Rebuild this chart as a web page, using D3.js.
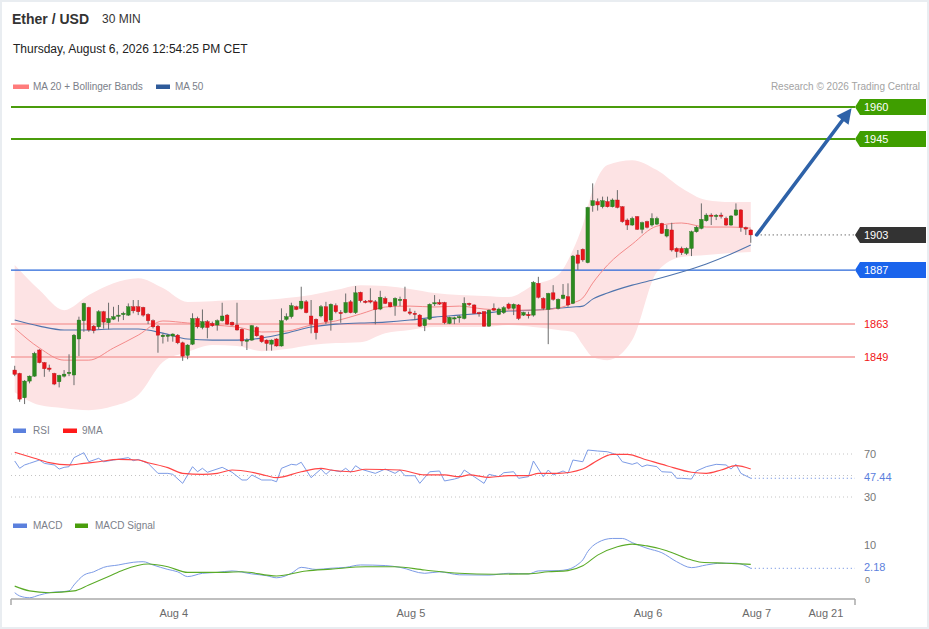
<!DOCTYPE html>
<html><head><meta charset="utf-8">
<script src="https://cdn.jsdelivr.net/npm/d3@7"></script>
<style>
html,body{margin:0;padding:0;background:#e9edf1;}
svg{display:block;font-family:"Liberation Sans",Arial,sans-serif;}
</style></head><body>
<svg id="c" width="929" height="629"></svg>
<script>
// ---------- DATA ----------
const candleOpen = [1843.2,1841.7,1830.9,1838.3,1840.5,1852.1,1846.5,1844.1,1841.7,1838.0,
1840.5,1841.7,1841.0,1857.0,1865.1,1871.0,1862.7,1862.4,1869.1,1864.2,
1865.8,1867.2,1867.8,1867.6,1871.3,1871.3,1871.0,1867.9,1865.1,1862.7,
1858.0,1858.3,1858.3,1858.7,1855.3,1849.7,1854.7,1866.1,
1862.1,1864.7,1863.9,1863.2,1865.1,1867.6,1864.4,1863.2,1861.3,1856.1,
1856.5,1862.1,1858.4,1856.5,1854.7,1857.0,1853.9,1865.7,1866.9,1871.3,
1870.6,1873.5,1867.2,1865.7,1867.2,1871.3,1865.4,1871.8,1868.8,1868.7,
1873.5,1868.7,1877.7,1873.8,1874.0,1873.5,
1870.3,1875.0,1873.1,1871.8,1874.1,1874.6,1869.0,1868.4,1867.6,1862.9,
1865.8,1872.7,1873.2,1873.2,1863.9,1866.0,1866.4,1866.1,1872.8,1872.1,
1868.7,1869.1,1862.7,1870.6,1867.9,1868.7,1872.5,1870.6,1872.1,1867.6,
1867.9,1867.6,1881.7,1875.0,1870.1,1877.5,1870.6,1875.0,
1875.8,1872.8,1894.3,1896.8,1890.9,1916.2,1918.0,1915.7,1918.0,1915.7,
1918.7,1915.7,1909.8,1907.6,1911.3,1905.7,1909.1,1907.6,1908.0,1908.3,
1902.7,1905.4,1897.2,1897.2,1895.0,1897.2,1904.6,1906.1,1909.5,1912.0,
1911.4,1912.0,1910.5,1907.6,1912.0,1914.3,1906.4,1905.4];
const candleHigh = [1845.1,1842.0,1838.8,1840.8,1851.3,1852.5,1846.8,1845.6,1842.0,1841.1,
1843.2,1850.2,1859.2,1866.9,1873.1,1871.3,1863.2,1869.8,1869.5,1873.1,
1871.3,1872.1,1869.1,1872.8,1874.3,1874.3,1871.3,1868.4,1865.7,1863.2,
1859.5,1859.2,1859.5,1859.2,1855.8,1854.7,1868.4,1866.9,
1870.1,1865.4,1864.7,1865.7,1873.1,1868.1,1864.7,1873.1,1861.7,1857.3,
1863.2,1862.7,1858.7,1856.8,1856.8,1857.3,1870.6,1868.4,1873.1,1871.8,
1880.2,1874.3,1874.3,1866.1,1872.1,1873.5,1872.8,1872.8,1869.8,1877.2,
1874.3,1880.5,1878.0,1874.3,1879.5,1874.3,
1878.4,1875.8,1873.5,1875.5,1875.8,1880.2,1870.6,1869.5,1868.1,1866.1,
1872.8,1876.5,1874.6,1873.5,1866.9,1866.9,1867.6,1875.5,1873.1,1872.4,
1869.1,1869.4,1870.1,1872.8,1870.9,1871.6,1873.1,1872.8,1872.5,1869.1,
1869.1,1882.7,1884.6,1875.5,1877.5,1880.9,1875.0,1881.4,
1881.7,1894.3,1896.5,1897.2,1915.7,1926.1,1919.4,1920.2,1920.2,1919.4,
1923.1,1916.0,1910.5,1911.3,1911.6,1909.1,1909.5,1912.8,1911.3,1908.6,
1907.6,1908.6,1897.7,1898.0,1897.7,1905.1,1907.2,1917.2,1912.8,1912.8,
1912.5,1913.1,1911.3,1912.0,1917.2,1914.6,1906.9,1905.7];
const candleLow = [1840.5,1829.1,1828.1,1837.3,1840.2,1846.2,1840.2,1842.5,1836.5,1835.5,
1839.9,1840.5,1836.5,1849.4,1860.2,1860.2,1859.5,1861.3,1861.6,1861.3,
1865.4,1864.7,1865.4,1867.2,1868.4,1867.6,1866.9,1863.6,1861.7,1850.9,
1855.0,1855.8,1855.8,1854.7,1847.3,1848.0,1854.3,1861.7,
1861.3,1857.3,1862.4,1860.7,1864.7,1863.2,1862.9,1860.7,1853.9,1852.1,
1856.2,1858.0,1855.3,1851.8,1851.8,1853.6,1853.6,1865.1,1866.1,1869.8,
1870.1,1868.4,1859.5,1856.8,1866.6,1863.6,1860.7,1868.4,1864.2,1868.4,
1868.4,1868.1,1873.2,1872.8,1872.8,1863.5,
1869.8,1872.5,1871.0,1867.3,1871.6,1869.1,1867.6,1865.4,1862.4,1860.5,
1865.4,1871.6,1872.1,1863.6,1863.6,1863.6,1864.2,1865.7,1871.6,1868.1,
1866.9,1862.4,1862.4,1869.5,1867.6,1868.1,1870.1,1867.6,1865.4,1867.2,
1866.1,1866.9,1875.0,1869.8,1854.7,1874.0,1870.1,1874.6,
1871.3,1872.5,1887.6,1891.3,1890.6,1913.5,1914.0,1915.0,1915.4,1915.4,
1915.0,1908.6,1905.4,1907.2,1905.4,1903.9,1906.1,1906.9,1907.6,1903.6,
1902.1,1895.8,1893.2,1894.3,1894.3,1893.8,1904.2,1905.7,1909.1,1907.6,
1909.8,1910.5,1907.2,1907.2,1911.6,1904.6,1903.2,1899.7];
const candleClose = [1841.3,1830.3,1838.3,1840.5,1850.6,1846.5,1843.8,1843.5,1837.0,1840.8,
1841.4,1842.2,1858.7,1865.4,1872.8,1861.0,1860.7,1869.1,1864.5,1866.1,
1866.9,1867.6,1868.4,1871.3,1869.5,1869.1,1867.6,1865.1,1862.4,1858.7,
1858.7,1858.7,1859.2,1855.3,1849.4,1854.3,1866.1,1862.4,
1864.7,1862.1,1862.9,1865.1,1867.2,1863.6,1863.2,1861.0,1856.1,1856.5,
1862.9,1858.4,1855.8,1855.0,1856.5,1853.9,1865.1,1866.9,1871.8,1870.1,
1873.8,1868.7,1863.6,1859.8,1871.3,1864.7,1872.4,1869.1,1868.4,1873.2,
1868.7,1877.5,1874.0,1873.2,1873.4,1870.1,
1875.5,1872.8,1871.3,1875.0,1874.6,1869.4,1868.4,1867.9,1862.7,1865.7,
1872.4,1873.1,1872.5,1864.2,1866.6,1866.4,1866.9,1872.8,1872.4,1868.4,
1868.2,1862.7,1869.8,1869.8,1870.3,1870.9,1870.6,1872.4,1866.1,1868.8,
1867.3,1882.1,1875.5,1870.6,1877.2,1874.6,1874.6,1876.5,
1872.1,1893.8,1890.6,1892.1,1915.4,1918.4,1916.5,1918.4,1915.7,1918.7,
1915.4,1909.1,1907.6,1910.5,1905.7,1908.6,1906.6,1910.5,1910.5,1903.9,
1905.7,1896.5,1895.8,1895.3,1897.2,1904.6,1906.6,1910.1,1912.0,1911.6,
1911.9,1911.6,1907.6,1911.6,1914.3,1906.6,1905.8,1903.2];

// moving averages / bands (sampled at candle indices)
const maIdx = [0,5,10,15,20,25,30,35,40,45,50,55,60,65,70,75,80,85,90,95,100,105,110,113,115,117,120,125,130,135,140,145,149];
const ma20 = [1861.8,1853.0,1847.6,1847.6,1853.0,1858.7,1865.0,1864.1,1863.2,1862.3,1860.1,1860.5,1863.2,1865.0,1868.1,1871.2,1871.6,1871.2,1871.6,1870.3,1869.8,1869.8,1870.7,1873.0,1875.2,1881.8,1889.8,1899.1,1907.1,1908.5,1906.7,1906.7,1906.2];
const ma50 = [1865.4,1862.7,1861.0,1861.0,1861.4,1861.4,1859.6,1857.0,1856.5,1856.5,1857.4,1859.6,1862.3,1863.6,1864.1,1864.5,1865.4,1866.7,1867.6,1868.5,1869.4,1869.8,1870.7,1871.2,1871.6,1874.7,1877.4,1880.9,1883.6,1886.7,1890.3,1894.7,1898.7];
const bbUpper = [1889.8,1878.7,1869.8,1876.5,1881.8,1884.0,1879.6,1873.4,1873.8,1874.3,1874.3,1875.2,1876.5,1878.7,1880.9,1880.5,1879.2,1877.4,1876.5,1876.1,1875.6,1880.9,1885.4,1896.5,1907.6,1923.1,1934.2,1936.4,1932.0,1924.0,1918.7,1917.8,1917.8];
const bbLower = [1833.4,1827.7,1826.3,1825.4,1827.2,1832.1,1846.8,1851.2,1854.3,1853.9,1851.6,1852.5,1854.3,1855.2,1855.6,1859.6,1861.0,1862.3,1862.3,1862.3,1863.2,1862.3,1861.0,1860.1,1854.3,1849.0,1847.6,1856.5,1886.7,1893.4,1894.3,1895.2,1895.6];

// RSI
const rsiIdx = [0,1,2,3,5,6,8,9,10,11,12,14,15,17,18,20,23,24,25,27,29,31,32,34,36,37,38,39,42,44,46,47,48,50,52,53,54,56,57,58,60,62,63,64,66,67,68,69,70,73,75,77,78,79,81,82,84,86,87,89,90,91,93,95,96,98,99,101,102,104,105,107,108,109,111,112,113,115,116,118,120,121,122,123,125,126,127,128,130,131,133,134,135,137,138,140,142,144,145,146,147,149];
const rsiVal = [63.5,56.7,59.8,61.3,64.4,61.3,59.8,56.0,57.6,58.2,66.6,71.2,62.8,66.0,62.8,64.4,66.6,63.8,65.0,61.3,52.0,52.0,51.1,42.7,58.2,53.5,56.7,53.0,57.6,53.0,45.8,45.8,50.5,45.8,45.8,44.2,56.7,60.4,59.8,62.3,48.0,56.0,51.1,55.1,53.5,56.7,53.0,59.1,56.0,52.0,56.0,52.0,55.1,49.8,49.8,42.7,53.5,54.2,44.9,46.7,48.0,55.1,48.9,42.7,51.1,48.9,52.6,53.5,47.4,48.9,63.5,48.9,55.1,50.5,54.2,52.0,64.4,62.8,73.7,72.8,72.1,70.6,69.1,62.8,60.4,61.9,58.2,59.8,58.2,53.5,53.0,47.4,47.4,46.7,54.2,58.2,60.4,59.8,56.0,60.4,52.0,47.44];
const rsiMaIdx = [0,4,7,11,14,17,21,25,27,31,34,38,41,44,48,51,53,58,62,64,68,71,78,83,87,90,92,96,100,104,106,110,115,117,121,124,128,132,137,140,143,146,149];
const rsiMaVal = [71.6,66.0,61.9,59.8,61.3,62.8,65.0,64.4,61.9,57.3,52.0,51.1,52.0,55.1,53.0,49.8,48.0,53.5,56.7,55.1,53.5,55.8,55.1,50.5,50.5,48.9,50.5,48.3,49.8,49.8,52.0,52.0,56.0,61.3,69.7,69.7,64.4,59.1,53.0,52.0,55.1,59.1,56.0];
const rsiTicks = [70, 50, 30];
const rsiLast = 47.44;

// MACD
const macdIdx = [0,1,3,5,7,11,12,14,16,18,21,24,26,28,31,33,35,38,41,44,48,51,53,56,58,61,64,67,70,75,78,83,86,90,96,100,104,106,110,112,114,115,116,118,121,123,125,128,131,134,137,140,143,146,149];
const macdVal = [-6.0,-7.1,-7.7,-6.8,-6.0,-5.4,-3.4,-0.1,1.0,2.5,3.3,4.2,4.4,3.3,1.8,1.0,-0.6,0.5,0.8,1.3,0.3,-0.3,-1.0,0.5,2.5,1.8,2.2,2.5,3.3,3.1,2.5,0.5,1.0,0.0,-0.1,0.5,0.3,1.3,1.4,1.8,3.5,5.0,7.8,10.8,12.2,12.2,10.8,8.9,7.4,4.4,2.4,3.3,3.9,3.9,2.18];
const signalIdx = [0,3,7,12,15,19,22,27,31,35,41,46,53,59,64,71,77,83,90,97,104,108,112,115,118,122,125,128,132,136,139,144,149];
const signalVal = [-3.8,-5.4,-6.0,-5.4,-3.4,-0.6,1.6,3.6,2.7,0.8,0.8,1.0,-0.4,1.3,1.9,2.7,2.7,1.6,0.5,0.2,0.3,1.0,1.4,3.0,6.6,9.4,10.3,9.7,8.1,5.5,4.2,3.9,3.5];
const macdTicks = [10, 0];
const macdLast = 2.18;

// levels
const levelVal = [1960.0, 1945.8, 1903.2, 1887.6, 1863.7, 1849.0];
const levelLabel = ["1960", "1945", "1903", "1887", "1863", "1849"];
const levelKind = ["res", "res", "last", "piv", "sup", "sup"];

// x axis ticks (candle index) and labels
const xTickIdx = [32, 80, 128, 150, 164];
const xTickLabel = ["Aug 4", "Aug 5", "Aug 6", "Aug 7", "Aug 21"];

// target arrow
const arrowFrom = [150.2, 1903.2];
const arrowTo = [169.4, 1959.5];

// ---------- DRAW ----------
const svg = d3.select("#c");
svg.append("rect").attr("x",2).attr("y",2).attr("width",925).attr("height",625).attr("fill","#fff");

const x = d3.scaleLinear().domain([-0.75,170.1]).range([11,855]);
const y = d3.scaleLinear().domain([1849,1960]).range([357,107]);
const yR = d3.scaleLinear().domain([30,70]).range([497,454]);
const yM = d3.scaleLinear().domain([0,10]).range([574.8,545]);

// header
svg.append("text").attr("x",12).attr("y",24).attr("font-size",14).attr("font-weight","bold").attr("fill","#333").text("Ether / USD");
svg.append("text").attr("x",102).attr("y",23).attr("font-size",12).attr("fill","#333").text("30 MIN");
svg.append("text").attr("x",13).attr("y",53).attr("font-size",12).attr("fill","#222").text("Thursday, August 6, 2026 12:54:25 PM CET");

function legend(items, ly){
  items.forEach(it=>{
    svg.append("rect").attr("x",it.rx).attr("y",ly-4).attr("width",it.rw).attr("height",4.5).attr("fill",it.c);
    svg.append("text").attr("x",it.tx).attr("y",ly+1.5).attr("font-size",10).attr("fill","#7b8089").text(it.t);
  });
}
legend([{rx:13,rw:16,c:"#ff7c7c",tx:33,t:"MA 20 + Bollinger Bands"},{rx:156,rw:14,c:"#2f5b9a",tx:175,t:"MA 50"}], 88.5);
svg.append("text").attr("x",920).attr("y",89.5).attr("font-size",10).attr("text-anchor","end").attr("fill","#a3a3a3").text("Research \u00A9 2026 Trading Central");

// bollinger band
const bandData = maIdx.map((d,i)=>({i:d,u:bbUpper[i],l:bbLower[i]}));
svg.append("path").datum(bandData)
  .attr("d", d3.area().x(d=>x(d.i)).y0(d=>y(d.l)).y1(d=>y(d.u)).curve(d3.curveMonotoneX))
  .attr("fill","#fde3e4");

// level lines
const levelColor = {res:"#4a9c0c", last:"#333333", piv:"#2766d9", sup:"#f7b3b3"};
levelVal.forEach((v,k)=>{
  const kind = levelKind[k];
  const yy = y(v);
  if(kind==="last"){
    svg.append("line").attr("x1",x(arrowFrom[0])).attr("x2",855).attr("y1",yy).attr("y2",yy)
      .attr("stroke","#333").attr("stroke-width",1).attr("stroke-dasharray","1,3");
  } else {
    svg.append("line").attr("x1",11).attr("x2",855).attr("y1",yy).attr("y2",yy)
      .attr("stroke",levelColor[kind]).attr("stroke-width", kind==="piv"?1.3:2);
  }
});

// MA lines
const lineMA = arr => d3.line().x((d,i)=>x(maIdx[i])).y(d=>y(d)).curve(d3.curveMonotoneX)(arr);
svg.append("path").attr("d",lineMA(ma50)).attr("fill","none").attr("stroke","#4f74ad").attr("stroke-width",1.1);
svg.append("path").attr("d",lineMA(ma20)).attr("fill","none").attr("stroke","#f48a8a").attr("stroke-width",1);

// candles
const cg = svg.append("g");
d3.range(candleOpen.length).forEach(i=>{
  const o=candleOpen[i], c=candleClose[i], h=candleHigh[i], l=candleLow[i];
  const up = c>=o;
  const cx = x(i);
  cg.append("line").attr("x1",cx).attr("x2",cx).attr("y1",y(h)).attr("y2",y(l)).attr("stroke","#6b6b6b").attr("stroke-width",1);
  const top = y(Math.max(o,c)), bot = y(Math.min(o,c));
  cg.append("rect").attr("x",cx-1.8).attr("width",3.6).attr("y",top).attr("height",Math.max(1.2,bot-top))
    .attr("fill", up?"#2c8a1f":"#e8151c").attr("stroke", up?"#23701a":"#c01016").attr("stroke-width",0.4);
});

// arrow
(function(){
  const x0=x(arrowFrom[0]), y0=y(arrowFrom[1]), x1=x(arrowTo[0]), y1=y(arrowTo[1]);
  const dx=x1-x0, dy=y1-y0, L=Math.hypot(dx,dy), ux=dx/L, uy=dy/L, px=-uy, py=ux;
  const hl=15, hw=7.5;
  const bx=x1-ux*hl, by=y1-uy*hl;
  svg.append("line").attr("x1",x0).attr("y1",y0).attr("x2",bx+ux*2).attr("y2",by+uy*2)
    .attr("stroke","#2e62a8").attr("stroke-width",3.6).attr("stroke-linecap","round");
  svg.append("path").attr("d",`M${x1},${y1}L${bx+px*hw},${by+py*hw}L${bx-px*hw},${by-py*hw}Z`).attr("fill","#2e62a8");
})();

// level labels
const boxColor = {res:"#3f9e00", last:"#333333", piv:"#1a64ec"};
levelVal.forEach((v,k)=>{
  const kind = levelKind[k];
  const yy = y(v);
  if(kind==="sup"){
    svg.append("text").attr("x",864).attr("y",yy+4).attr("font-size",11).attr("fill","#f01515").text(levelLabel[k]);
  } else {
    svg.append("path").attr("d",`M855,${yy}L860,${yy-8}L926,${yy-8}L926,${yy+8}L860,${yy+8}Z`).attr("fill",boxColor[kind]);
    svg.append("text").attr("x",864).attr("y",yy+4).attr("font-size",11).attr("fill","#fff").text(levelLabel[k]);
  }
});

// ---------- RSI ----------
legend([{rx:13,rw:13,c:"#5b80dd",tx:33,t:"RSI"},{rx:63,rw:14,c:"#ff1a1a",tx:82,t:"9MA"}], 432.5);
rsiTicks.forEach(t=>{
  svg.append("line").attr("x1",11).attr("x2",855).attr("y1",yR(t)).attr("y2",yR(t))
    .attr("stroke","#c4c4c4").attr("stroke-width",1).attr("stroke-dasharray","1,3");
  if(t!==50) svg.append("text").attr("x",864).attr("y",yR(t)+4).attr("font-size",11).attr("fill","#777").text(t);
});
svg.append("path").attr("d",d3.line().x((d,i)=>x(rsiIdx[i])).y(d=>yR(d))(rsiVal)).attr("fill","none").attr("stroke","#7c9be6").attr("stroke-width",1);
svg.append("path").attr("d",d3.line().x((d,i)=>x(rsiMaIdx[i])).y(d=>yR(d)).curve(d3.curveMonotoneX)(rsiMaVal)).attr("fill","none").attr("stroke","#ff4545").attr("stroke-width",1.2);
svg.append("line").attr("x1",x(149)).attr("x2",855).attr("y1",yR(rsiLast)).attr("y2",yR(rsiLast))
  .attr("stroke","#5b80dd").attr("stroke-width",1).attr("stroke-dasharray","1,3");
svg.append("text").attr("x",864).attr("y",yR(rsiLast)+3).attr("font-size",11).attr("fill","#5b80dd").text(rsiLast.toFixed(2));

// ---------- MACD ----------
legend([{rx:13,rw:14,c:"#5b80dd",tx:33,t:"MACD"},{rx:75,rw:13,c:"#4a9e0c",tx:95,t:"MACD Signal"}], 527.5);
svg.append("text").attr("x",864).attr("y",yM(10)+4).attr("font-size",11).attr("fill","#777").text("10");
svg.append("text").attr("x",865).attr("y",yM(0)+8).attr("font-size",9).attr("fill","#777").text("0");
svg.append("path").attr("d",d3.line().x((d,i)=>x(macdIdx[i])).y(d=>yM(d)).curve(d3.curveMonotoneX)(macdVal)).attr("fill","none").attr("stroke","#7c9be6").attr("stroke-width",1);
svg.append("path").attr("d",d3.line().x((d,i)=>x(signalIdx[i])).y(d=>yM(d)).curve(d3.curveMonotoneX)(signalVal)).attr("fill","none").attr("stroke","#5aab27").attr("stroke-width",1.1);
svg.append("line").attr("x1",x(149)).attr("x2",855).attr("y1",yM(macdLast)).attr("y2",yM(macdLast))
  .attr("stroke","#5b80dd").attr("stroke-width",1).attr("stroke-dasharray","1,3");
svg.append("text").attr("x",864).attr("y",yM(macdLast)+3).attr("font-size",11).attr("fill","#5b80dd").text(macdLast.toFixed(2));

// ---------- X axis ----------
svg.append("line").attr("x1",11).attr("x2",855).attr("y1",599).attr("y2",599).attr("stroke","#aaa").attr("stroke-width",1.5);
[11,855].forEach(px=>svg.append("line").attr("x1",px).attr("x2",px).attr("y1",599).attr("y2",605).attr("stroke","#aaa").attr("stroke-width",1.5));
xTickIdx.forEach((t,k)=>{
  svg.append("text").attr("x",x(t)+1).attr("y",617).attr("font-size",11).attr("text-anchor","middle").attr("fill","#6a6a6a").text(xTickLabel[k]);
});
</script>
</body></html>
